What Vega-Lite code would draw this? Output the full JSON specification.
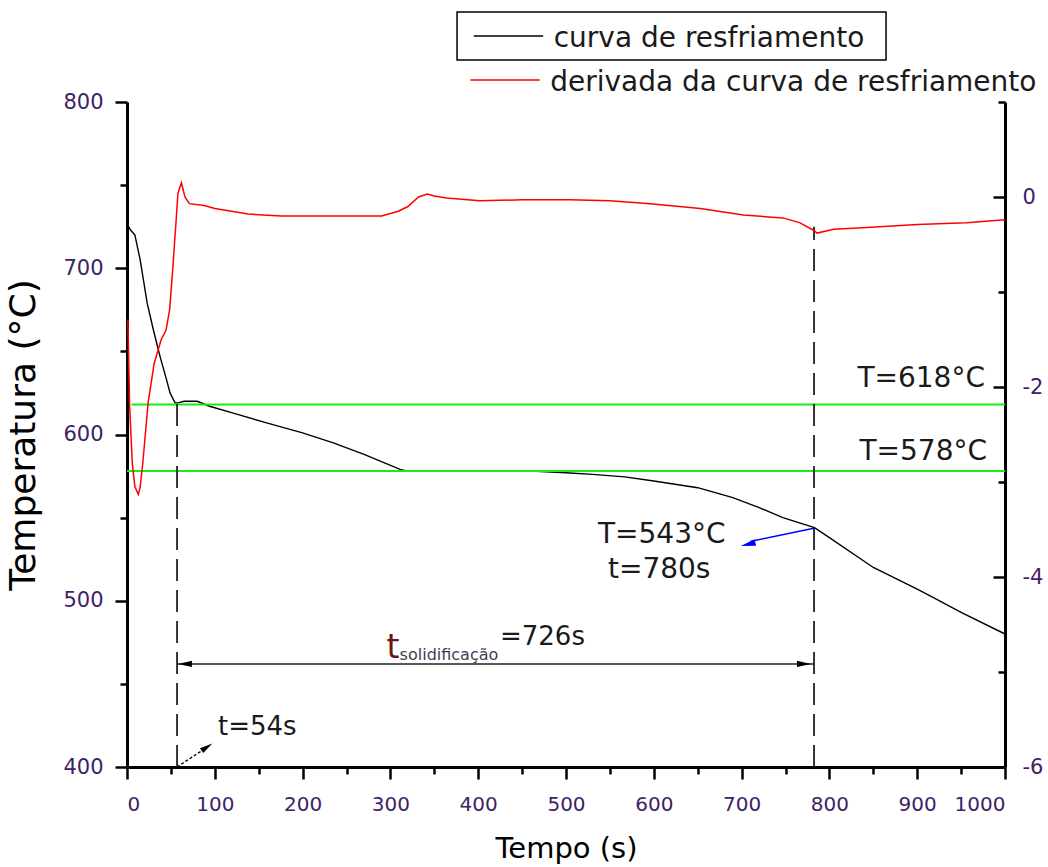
{
  "$schema": "https://vega.github.io/schema/vega-lite/v6.json",
  "width": 878,
  "height": 665,
  "autosize": {"type": "none"},
  "padding": {"left": 127, "top": 102, "right": 43, "bottom": 100},
  "background": "white",
  "config": {
    "view": {"stroke": null},
    "font": "DejaVu Sans",
    "axis": {
      "grid": false,
      "domainColor": "black",
      "domainWidth": 3,
      "tickColor": "black",
      "tickWidth": 2.5,
      "labelFont": "DejaVu Sans",
      "labelFontSize": 21,
      "labelColor": "#3d2366",
      "titleFont": "DejaVu Sans",
      "titleFontWeight": "normal",
      "titleColor": "black",
      "labelOverlap": false
    }
  },
  "datasets": {
    "cool": [
      {"t": 1, "T": 726}, {"t": 4, "T": 723}, {"t": 9, "T": 720}, {"t": 15, "T": 705},
      {"t": 23, "T": 679}, {"t": 30, "T": 663}, {"t": 37.6, "T": 647}, {"t": 45, "T": 633},
      {"t": 49, "T": 625}, {"t": 54.7, "T": 619}, {"t": 58, "T": 619}, {"t": 65, "T": 620},
      {"t": 80, "T": 620}, {"t": 94, "T": 617}, {"t": 120, "T": 613}, {"t": 159, "T": 607},
      {"t": 200, "T": 601}, {"t": 235, "T": 595}, {"t": 270, "T": 588}, {"t": 311, "T": 579},
      {"t": 320, "T": 578}, {"t": 400, "T": 578}, {"t": 460, "T": 578}, {"t": 500, "T": 577},
      {"t": 530, "T": 576}, {"t": 567, "T": 574.5}, {"t": 600, "T": 572}, {"t": 650, "T": 568},
      {"t": 690, "T": 562}, {"t": 720, "T": 556}, {"t": 747, "T": 550}, {"t": 783, "T": 544},
      {"t": 800, "T": 538}, {"t": 850, "T": 520}, {"t": 900, "T": 507}, {"t": 918, "T": 502},
      {"t": 950, "T": 493}, {"t": 1000, "T": 480}
    ],
    "deriv": [
      {"t": 1, "D": -1.29}, {"t": 3, "D": -2.2}, {"t": 6, "D": -2.8}, {"t": 9, "D": -3.05},
      {"t": 13, "D": -3.13}, {"t": 15, "D": -3.05}, {"t": 18, "D": -2.8}, {"t": 24, "D": -2.17},
      {"t": 31, "D": -1.75}, {"t": 39, "D": -1.5}, {"t": 44.5, "D": -1.4}, {"t": 48.5, "D": -1.19},
      {"t": 52, "D": -0.77}, {"t": 56, "D": -0.24}, {"t": 58, "D": 0.04}, {"t": 62, "D": 0.15},
      {"t": 66, "D": 0.0}, {"t": 71, "D": -0.07}, {"t": 88, "D": -0.09}, {"t": 100, "D": -0.12},
      {"t": 119, "D": -0.15}, {"t": 138, "D": -0.18}, {"t": 176, "D": -0.2}, {"t": 230, "D": -0.2},
      {"t": 290, "D": -0.2}, {"t": 309, "D": -0.15}, {"t": 320, "D": -0.1}, {"t": 332, "D": 0.0},
      {"t": 342, "D": 0.03}, {"t": 350, "D": 0.01}, {"t": 364, "D": -0.01}, {"t": 402, "D": -0.04},
      {"t": 450, "D": -0.03}, {"t": 504, "D": -0.03}, {"t": 550, "D": -0.04}, {"t": 596, "D": -0.07},
      {"t": 653, "D": -0.12}, {"t": 702, "D": -0.19}, {"t": 747, "D": -0.22}, {"t": 766, "D": -0.27},
      {"t": 782, "D": -0.35}, {"t": 786, "D": -0.38}, {"t": 805, "D": -0.34}, {"t": 843, "D": -0.32},
      {"t": 900, "D": -0.29}, {"t": 956, "D": -0.27}, {"t": 1000, "D": -0.24}
    ]
  },
  "layer": [
    {
      "layer": [
        {
          "data": {"name": "cool"},
          "mark": {"type": "line", "color": "black", "strokeWidth": 1.4},
          "encoding": {
            "x": {
              "field": "t", "type": "quantitative",
              "scale": {"domain": [0, 1000], "nice": false},
              "axis": {
                "title": "Tempo (s)",
                "titleFontSize": 29,
                "titlePadding": 20,
                "labelFontSize": 20,
                "values": [0, 50, 100, 150, 200, 250, 300, 350, 400, 450, 500, 550, 600, 650, 700, 750, 800, 850, 900, 950, 1000],
                "tickSize": {"condition": {"test": "datum.value % 100 === 0", "value": 12}, "value": 7},
                "labelExpr": "datum.value % 100 === 0 ? '' + datum.value : ''",
                "labelPadding": 15
              }
            },
            "y": {
              "field": "T", "type": "quantitative",
              "scale": {"domain": [400, 800], "nice": false, "zero": false},
              "axis": {
                "title": "Temperatura (°C)",
                "titleFontSize": 36,
                "titlePadding": 20,
                "labelFontSize": 21,
                "values": [400, 450, 500, 550, 600, 650, 700, 750, 800],
                "tickSize": {"condition": {"test": "datum.value % 100 === 0", "value": 12}, "value": 7},
                "labelExpr": "datum.value % 100 === 0 ? '' + datum.value : ''",
                "labelPadding": 12
              }
            }
          }
        },
        {
          "data": {"values": [{"t": 5, "t2": 1000, "T": 618}, {"t": 0, "t2": 1000, "T": 578}]},
          "mark": {"type": "rule", "color": "#14ee14", "strokeWidth": 2},
          "encoding": {
            "x": {"field": "t", "type": "quantitative", "scale": {"domain": [0, 1000], "nice": false}},
            "x2": {"field": "t2"},
            "y": {"field": "T", "type": "quantitative", "scale": {"domain": [400, 800], "nice": false, "zero": false}}
          }
        },
        {
          "data": {"values": [{"t": 57, "T": 400, "T2": 619}, {"t": 782.5, "T": 400, "T2": 725}]},
          "mark": {"type": "rule", "color": "#222222", "strokeWidth": 1.8, "strokeDash": [22, 9]},
          "encoding": {
            "x": {"field": "t", "type": "quantitative", "scale": {"domain": [0, 1000], "nice": false}},
            "y": {"field": "T", "type": "quantitative", "scale": {"domain": [400, 800], "nice": false, "zero": false}},
            "y2": {"field": "T2"}
          }
        },
        {
          "data": {"values": [{"t": 57, "t2": 782.5, "T": 462}]},
          "mark": {"type": "rule", "color": "#222222", "strokeWidth": 1.5},
          "encoding": {
            "x": {"field": "t", "type": "quantitative", "scale": {"domain": [0, 1000], "nice": false}},
            "x2": {"field": "t2"},
            "y": {"field": "T", "type": "quantitative", "scale": {"domain": [400, 800], "nice": false, "zero": false}}
          }
        },
        {
          "data": {"values": [{"t": 66, "T": 462}]},
          "mark": {"type": "point", "shape": "M-1,0L1,-0.45L1,0.45Z", "filled": true, "color": "black", "size": 196, "opacity": 1},
          "encoding": {
            "x": {"field": "t", "type": "quantitative", "scale": {"domain": [0, 1000], "nice": false}},
            "y": {"field": "T", "type": "quantitative", "scale": {"domain": [400, 800], "nice": false, "zero": false}}
          }
        },
        {
          "data": {"values": [{"t": 771, "T": 462}]},
          "mark": {"type": "point", "shape": "M1,0L-1,-0.45L-1,0.45Z", "filled": true, "color": "black", "size": 196, "opacity": 1},
          "encoding": {
            "x": {"field": "t", "type": "quantitative", "scale": {"domain": [0, 1000], "nice": false}},
            "y": {"field": "T", "type": "quantitative", "scale": {"domain": [400, 800], "nice": false, "zero": false}}
          }
        },
        {
          "data": {"values": [{"t": 57, "t2": 93, "T": 400, "T2": 412.5}]},
          "mark": {"type": "rule", "color": "black", "strokeWidth": 1.3, "strokeDash": [3, 2]},
          "encoding": {
            "x": {"field": "t", "type": "quantitative", "scale": {"domain": [0, 1000], "nice": false}},
            "x2": {"field": "t2"},
            "y": {"field": "T", "type": "quantitative", "scale": {"domain": [400, 800], "nice": false, "zero": false}},
            "y2": {"field": "T2"}
          }
        },
        {
          "data": {"values": [{"t": 91.1, "T": 412}]},
          "mark": {"type": "point", "shape": "M1,0L-1,-0.45L-1,0.45Z", "filled": true, "color": "black", "size": 169, "angle": 326, "opacity": 1},
          "encoding": {
            "x": {"field": "t", "type": "quantitative", "scale": {"domain": [0, 1000], "nice": false}},
            "y": {"field": "T", "type": "quantitative", "scale": {"domain": [400, 800], "nice": false, "zero": false}}
          }
        },
        {
          "data": {"values": [{"t": 783.6, "t2": 710, "T": 543.8, "T2": 535.7}]},
          "mark": {"type": "rule", "color": "#0000ff", "strokeWidth": 1.5},
          "encoding": {
            "x": {"field": "t", "type": "quantitative", "scale": {"domain": [0, 1000], "nice": false}},
            "x2": {"field": "t2"},
            "y": {"field": "T", "type": "quantitative", "scale": {"domain": [400, 800], "nice": false, "zero": false}},
            "y2": {"field": "T2"}
          }
        },
        {
          "data": {"values": [{"t": 707.3, "T": 534}]},
          "mark": {"type": "point", "shape": "M1,0L-1,-0.45L-1,0.45Z", "filled": true, "color": "#0000ff", "size": 225, "angle": 166.5, "opacity": 1},
          "encoding": {
            "x": {"field": "t", "type": "quantitative", "scale": {"domain": [0, 1000], "nice": false}},
            "y": {"field": "T", "type": "quantitative", "scale": {"domain": [400, 800], "nice": false, "zero": false}}
          }
        },
        {
          "data": {"values": [{"t": 977.2, "T": 628.6, "label": "T=618°C"}, {"t": 979.5, "T": 584.7, "label": "T=578°C"}]},
          "mark": {"type": "text", "align": "right", "baseline": "alphabetic", "fontSize": 28, "font": "DejaVu Sans", "color": "#1a1a1a"},
          "encoding": {
            "x": {"field": "t", "type": "quantitative", "scale": {"domain": [0, 1000], "nice": false}},
            "y": {"field": "T", "type": "quantitative", "scale": {"domain": [400, 800], "nice": false, "zero": false}},
            "text": {"field": "label"}
          }
        },
        {
          "data": {"values": [{"t": 536.4, "T": 534.7, "label": "T=543°C"}, {"t": 547.8, "T": 513.7, "label": "t=780s"}]},
          "mark": {"type": "text", "align": "left", "baseline": "alphabetic", "fontSize": 28, "font": "DejaVu Sans", "color": "#1a1a1a"},
          "encoding": {
            "x": {"field": "t", "type": "quantitative", "scale": {"domain": [0, 1000], "nice": false}},
            "y": {"field": "T", "type": "quantitative", "scale": {"domain": [400, 800], "nice": false, "zero": false}},
            "text": {"field": "label"}
          }
        },
        {
          "data": {"values": [{"t": 103.6, "T": 419.2, "label": "t=54s"}, {"t": 424.8, "T": 473.4, "label": "=726s"}]},
          "mark": {"type": "text", "align": "left", "baseline": "alphabetic", "fontSize": 26, "font": "DejaVu Sans", "color": "#1a1a1a"},
          "encoding": {
            "x": {"field": "t", "type": "quantitative", "scale": {"domain": [0, 1000], "nice": false}},
            "y": {"field": "T", "type": "quantitative", "scale": {"domain": [400, 800], "nice": false, "zero": false}},
            "text": {"field": "label"}
          }
        },
        {
          "data": {"values": [{"t": 295.5, "T": 465.6, "label": "t"}]},
          "mark": {"type": "text", "align": "left", "baseline": "alphabetic", "fontSize": 33, "font": "DejaVu Sans", "color": "#6b1515"},
          "encoding": {
            "x": {"field": "t", "type": "quantitative", "scale": {"domain": [0, 1000], "nice": false}},
            "y": {"field": "T", "type": "quantitative", "scale": {"domain": [400, 800], "nice": false, "zero": false}},
            "text": {"field": "label"}
          }
        },
        {
          "data": {"values": [{"t": 310.5, "T": 464.2, "label": "solidificação"}]},
          "mark": {"type": "text", "align": "left", "baseline": "alphabetic", "fontSize": 16, "font": "DejaVu Sans", "color": "#3a3f55"},
          "encoding": {
            "x": {"field": "t", "type": "quantitative", "scale": {"domain": [0, 1000], "nice": false}},
            "y": {"field": "T", "type": "quantitative", "scale": {"domain": [400, 800], "nice": false, "zero": false}},
            "text": {"field": "label"}
          }
        },
        {
          "data": {"values": [{"t": 375.9, "t2": 864.5, "T": 854.1, "T2": 825.3}]},
          "mark": {"type": "rect", "fill": "white", "fillOpacity": 0, "stroke": "black", "strokeWidth": 1.5},
          "encoding": {
            "x": {"field": "t", "type": "quantitative", "scale": {"domain": [0, 1000], "nice": false}},
            "x2": {"field": "t2"},
            "y": {"field": "T", "type": "quantitative", "scale": {"domain": [400, 800], "nice": false, "zero": false}},
            "y2": {"field": "T2"}
          }
        },
        {
          "data": {"values": [
            {"t": 395, "t2": 474, "T": 839.7, "serie": "curva de resfriamento"},
            {"t": 391, "t2": 470, "T": 813.2, "serie": "derivada da curva de resfriamento"}
          ]},
          "mark": {"type": "rule", "strokeWidth": 1.5},
          "encoding": {
            "x": {"field": "t", "type": "quantitative", "scale": {"domain": [0, 1000], "nice": false}},
            "x2": {"field": "t2"},
            "y": {"field": "T", "type": "quantitative", "scale": {"domain": [400, 800], "nice": false, "zero": false}},
            "color": {"field": "serie", "type": "nominal", "scale": {"domain": ["curva de resfriamento", "derivada da curva de resfriamento"], "range": ["black", "#ff0000"]}, "legend": null}
          }
        },
        {
          "data": {"values": [
            {"t": 486, "T": 833.1, "serie": "curva de resfriamento"},
            {"t": 482, "T": 806.6, "serie": "derivada da curva de resfriamento"}
          ]},
          "mark": {"type": "text", "align": "left", "baseline": "alphabetic", "fontSize": 28, "font": "DejaVu Sans", "color": "#1a1a1a"},
          "encoding": {
            "x": {"field": "t", "type": "quantitative", "scale": {"domain": [0, 1000], "nice": false}},
            "y": {"field": "T", "type": "quantitative", "scale": {"domain": [400, 800], "nice": false, "zero": false}},
            "text": {"field": "serie"}
          }
        }
      ]
    },
    {
      "data": {"name": "deriv"},
      "mark": {"type": "line", "color": "#ff0000", "strokeWidth": 1.5},
      "encoding": {
        "x": {"field": "t", "type": "quantitative", "scale": {"domain": [0, 1000], "nice": false}},
        "y": {
          "field": "D", "type": "quantitative",
          "scale": {"domain": [-6, 1], "nice": false, "zero": false},
          "axis": {
            "orient": "right",
            "title": null,
            "labelFontSize": 21,
            "values": [1, 0, -1, -2, -3, -4, -5, -6],
            "tickSize": {"condition": {"test": "datum.value % 2 === 0", "value": -12}, "value": -7},
            "labelExpr": "datum.value % 2 === 0 ? '' + datum.value : ''",
            "labelPadding": 29
          }
        }
      }
    }
  ],
  "resolve": {"scale": {"y": "independent"}}
}
